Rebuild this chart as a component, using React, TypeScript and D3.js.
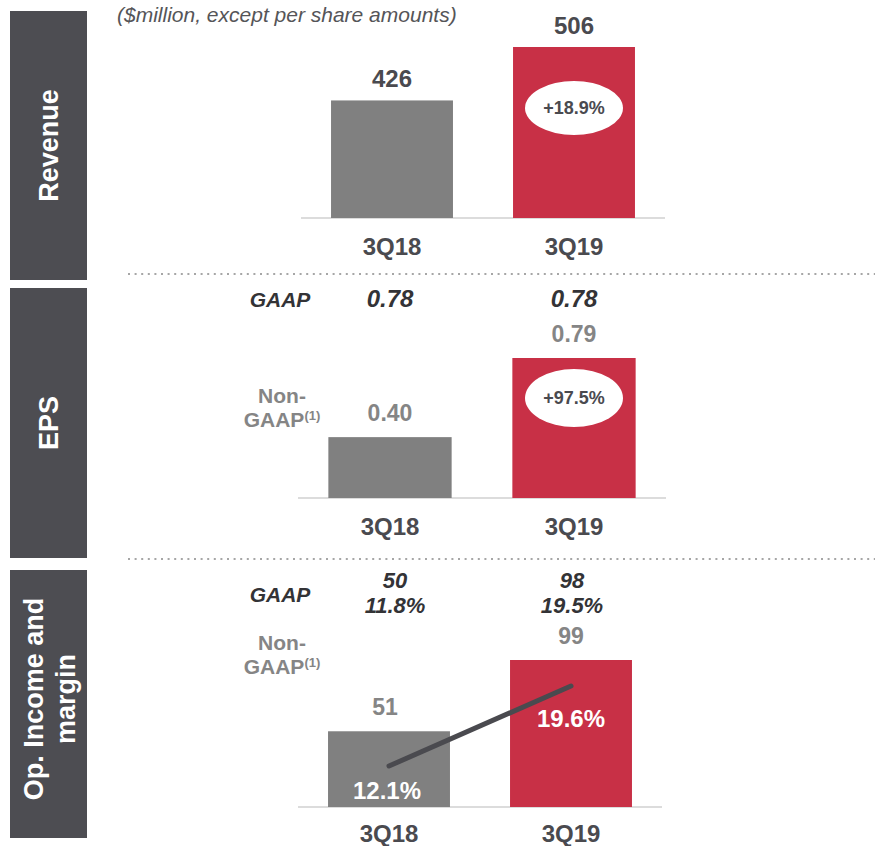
import React from 'react';
import * as d3 from 'd3';

const categories = ['3Q18', '3Q19'];
const revenue = [426, 506];
const revenueGrowth = '+18.9%';
const epsGaap = ['0.78', '0.78'];
const epsNonGaap = [0.40, 0.79];
const epsGrowth = '+97.5%';
const opIncomeGaap = ['50', '98'];
const opMarginGaap = ['11.8%', '19.5%'];
const opIncomeNonGaap = [51, 99];
const opMarginNonGaap = [12.1, 19.6];
const sectionTitles = ['Revenue', 'EPS'];
const opTitleLines = ['Op. Income and', 'margin'];

const FONT = '"Liberation Sans", Arial, Helvetica, sans-serif';
const DARK = '#4a4a4f';
const GAAPC = '#333336';
const GRAY_TXT = '#858585';
const BAR_GRAY = '#808080';
const BAR_RED = '#c83046';
const PANEL = '#4d4d52';
const colorFor = (i: number) => (i === 0 ? BAR_GRAY : BAR_RED);

export default function App() {
  // Revenue scales
  const xRev = d3.scaleBand<string>().domain(categories).range([301, 665]).paddingInner(0.33).paddingOuter(0.165);
  const yRev = d3.scaleLinear().domain([250, 506]).range([218, 47]);
  // EPS scales
  const xEps = d3.scaleBand<string>().domain(categories).range([298, 666]).paddingInner(0.33).paddingOuter(0.165);
  const yEps = d3.scaleLinear().domain([0.1, 0.79]).range([498, 358]);
  // Op scales
  const xOp = d3.scaleBand<string>().domain(categories).range([298, 662]).paddingInner(0.33).paddingOuter(0.165);
  const yOp = d3.scaleLinear().domain([0, 99]).range([807, 660]);
  const yMargin = d3.scaleLinear().domain([8.26, 19.6]).range([807, 686]);

  const marginLine = d3
    .line<number>()
    .x((_, i) => (xOp(categories[i]) as number) + xOp.bandwidth() / 2)
    .y((d) => yMargin(d));

  const fmt2 = d3.format('.2f');
  const fmtPct = (v: number) => d3.format('.1f')(v) + '%';

  const panels = [
    { y0: 11, y1: 280 },
    { y0: 288, y1: 558 },
    { y0: 570, y1: 838 },
  ];

  const nonGaapLabel = (cx: number, y: number) => (
    <g fontFamily={FONT} fontWeight="bold" fill={GRAY_TXT} textAnchor="middle">
      <text x={cx} y={y} fontSize={21}>Non-</text>
      <text x={cx} y={y + 24} fontSize={21}>
        GAAP<tspan fontSize={13} dy={-7}>(1)</tspan>
      </text>
    </g>
  );

  return (
    <svg width={875} height={846} style={{ position: 'absolute', left: 0, top: 0 }} fontFamily={FONT}>
      <rect width={875} height={846} fill="#ffffff" />
      {/* side panels */}
      {panels.map((p, i) => (
        <rect key={i} x={10} y={p.y0} width={77} height={p.y1 - p.y0} fill={PANEL} />
      ))}
      {sectionTitles.map((t, i) => (
        <text
          key={t}
          transform={`translate(58,${(panels[i].y0 + panels[i].y1) / 2}) rotate(-90)`}
          textAnchor="middle"
          fill="#ffffff"
          fontWeight="bold"
          fontSize={27}
        >
          {t}
        </text>
      ))}
      {opTitleLines.map((t, i) => (
        <text
          key={t}
          transform={`translate(${43 + i * 32},699) rotate(-90)`}
          textAnchor="middle"
          fill="#ffffff"
          fontWeight="bold"
          fontSize={27}
        >
          {t}
        </text>
      ))}

      {/* subtitle */}
      <text x={117} y={22} fontStyle="italic" fontSize={21} fill="#555558">
        ($million, except per share amounts)
      </text>

      {/* dotted separators */}
      {[274, 559].map((y) => (
        <line key={y} x1={128} x2={875} y1={y} y2={y} stroke="#a6a6a6" strokeWidth={2} strokeDasharray="2,4.6" />
      ))}

      {/* ===== Revenue ===== */}
      <line x1={301} x2={665} y1={yRev(250)} y2={yRev(250)} stroke="#dcdcdc" strokeWidth={2} />
      {revenue.map((v, i) => {
        const x = xRev(categories[i]) as number;
        return (
          <g key={i}>
            <rect x={x} y={yRev(v)} width={xRev.bandwidth()} height={yRev(250) - yRev(v)} fill={colorFor(i)} />
            <text x={x + xRev.bandwidth() / 2} y={yRev(v) - 13} textAnchor="middle" fontWeight="bold" fontSize={24} fill={DARK}>
              {v}
            </text>
            <text x={x + xRev.bandwidth() / 2} y={yRev(250) + 37} textAnchor="middle" fontWeight="bold" fontSize={24} fill={DARK}>
              {categories[i]}
            </text>
          </g>
        );
      })}
      <g>
        <ellipse cx={(xRev('3Q19') as number) + xRev.bandwidth() / 2} cy={108} rx={49} ry={27} fill="#ffffff" />
        <text x={(xRev('3Q19') as number) + xRev.bandwidth() / 2} y={114} textAnchor="middle" fontWeight="bold" fontSize={18} fill={DARK}>
          {revenueGrowth}
        </text>
      </g>

      {/* ===== EPS ===== */}
      <text x={280} y={307} textAnchor="middle" fontStyle="italic" fontWeight="bold" fontSize={21} fill={GAAPC}>GAAP</text>
      {epsGaap.map((v, i) => (
        <text key={i} x={(xEps(categories[i]) as number) + xEps.bandwidth() / 2} y={307} textAnchor="middle" fontStyle="italic" fontWeight="bold" fontSize={24} fill={GAAPC}>
          {v}
        </text>
      ))}
      {nonGaapLabel(282, 403)}
      <line x1={298} x2={666} y1={yEps(0.1)} y2={yEps(0.1)} stroke="#dcdcdc" strokeWidth={2} />
      {epsNonGaap.map((v, i) => {
        const x = xEps(categories[i]) as number;
        return (
          <g key={i}>
            <rect x={x} y={yEps(v)} width={xEps.bandwidth()} height={yEps(0.1) - yEps(v)} fill={colorFor(i)} />
            <text x={x + xEps.bandwidth() / 2} y={yEps(v) - 16} textAnchor="middle" fontWeight="bold" fontSize={23} fill={GRAY_TXT}>
              {fmt2(v)}
            </text>
            <text x={x + xEps.bandwidth() / 2} y={yEps(0.1) + 37} textAnchor="middle" fontWeight="bold" fontSize={24} fill={DARK}>
              {categories[i]}
            </text>
          </g>
        );
      })}
      <g>
        <ellipse cx={(xEps('3Q19') as number) + xEps.bandwidth() / 2} cy={398} rx={49} ry={29} fill="#ffffff" />
        <text x={(xEps('3Q19') as number) + xEps.bandwidth() / 2} y={404} textAnchor="middle" fontWeight="bold" fontSize={18} fill={DARK}>
          {epsGrowth}
        </text>
      </g>

      {/* ===== Op income ===== */}
      <text x={280} y={602} textAnchor="middle" fontStyle="italic" fontWeight="bold" fontSize={21} fill={GAAPC}>GAAP</text>
      {opIncomeGaap.map((v, i) => {
        const cx = (xOp(categories[i]) as number) + xOp.bandwidth() / 2 + (i === 0 ? 6 : 1);
        return (
          <g key={i}>
            <text x={cx} y={588} textAnchor="middle" fontStyle="italic" fontWeight="bold" fontSize={22} fill={GAAPC}>{v}</text>
            <text x={cx} y={613} textAnchor="middle" fontStyle="italic" fontWeight="bold" fontSize={22} fill={GAAPC}>{opMarginGaap[i]}</text>
          </g>
        );
      })}
      {nonGaapLabel(282, 650)}
      <line x1={298} x2={662} y1={yOp(0)} y2={yOp(0)} stroke="#dcdcdc" strokeWidth={2} />
      {opIncomeNonGaap.map((v, i) => {
        const x = xOp(categories[i]) as number;
        return (
          <g key={i}>
            <rect x={x} y={yOp(v)} width={xOp.bandwidth()} height={yOp(0) - yOp(v)} fill={colorFor(i)} />
            <text x={x + xOp.bandwidth() / 2 - 4 + i * 4} y={yOp(v) - 16} textAnchor="middle" fontWeight="bold" fontSize={23} fill={GRAY_TXT}>
              {v}
            </text>
            <text x={x + xOp.bandwidth() / 2} y={yOp(0) + 35} textAnchor="middle" fontWeight="bold" fontSize={24} fill={DARK}>
              {categories[i]}
            </text>
          </g>
        );
      })}
      <path d={marginLine(opMarginNonGaap) || ''} fill="none" stroke={DARK} strokeWidth={5} strokeLinecap="round" />
      {opMarginNonGaap.map((v, i) => (
        <text
          key={i}
          x={(xOp(categories[i]) as number) + xOp.bandwidth() / 2 - 2 + i * 2}
          y={yMargin(v) + (i === 0 ? 33 : 41)}
          textAnchor="middle"
          fontWeight="bold"
          fontSize={24}
          fill="#ffffff"
        >
          {fmtPct(v)}
        </text>
      ))}
    </svg>
  );
}
